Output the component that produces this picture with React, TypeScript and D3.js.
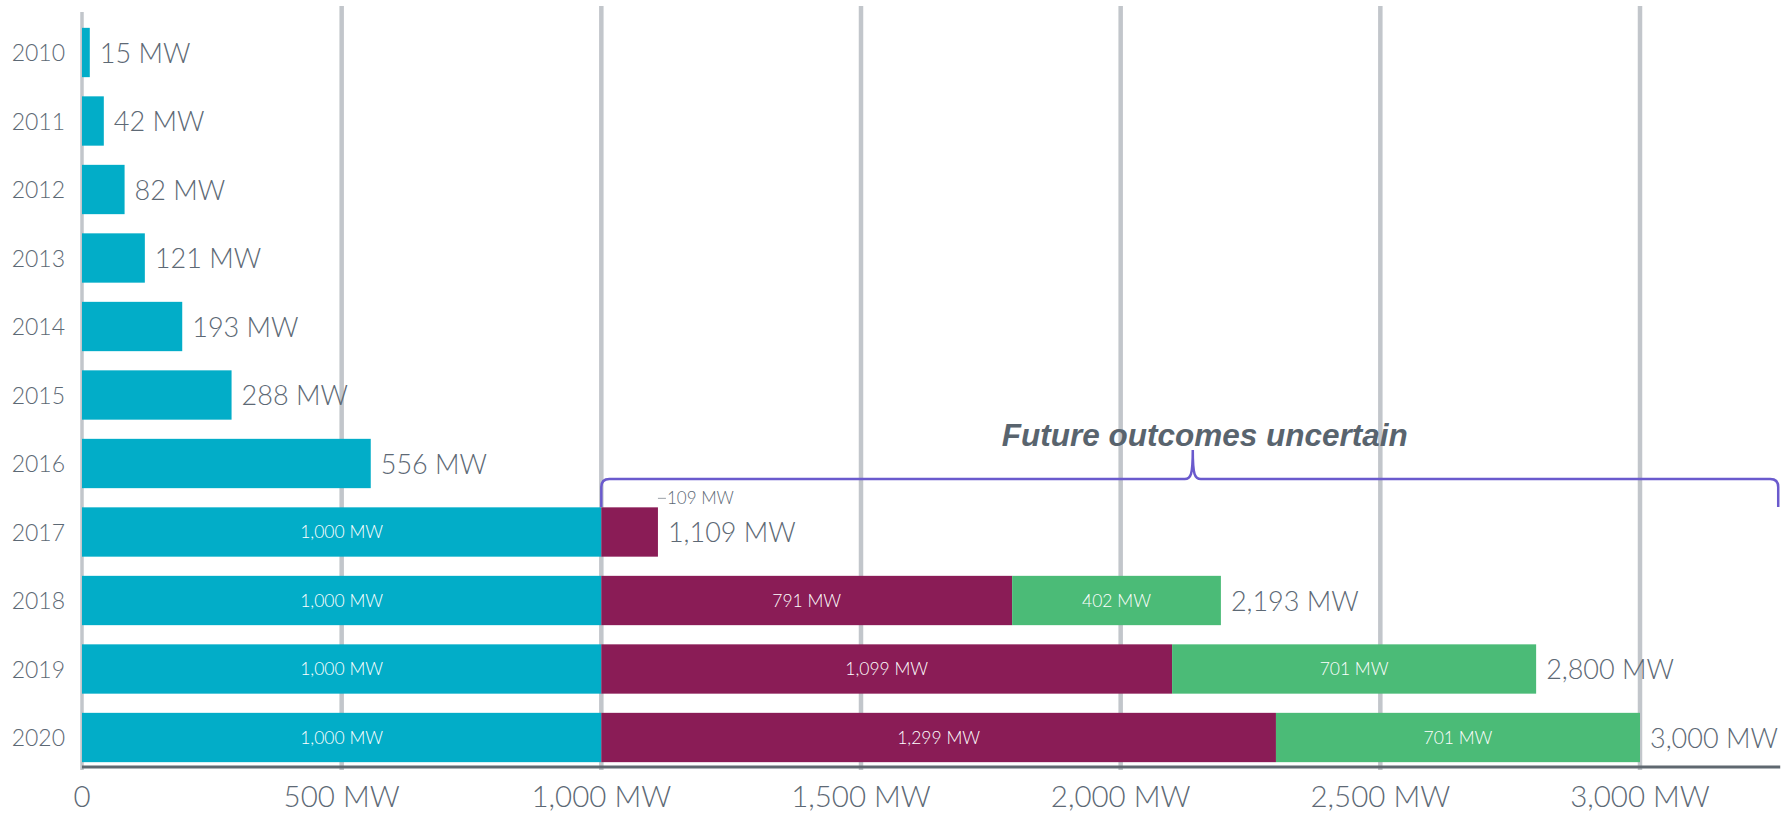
import React from 'react';
import * as d3 from 'd3';

// Installed capacity by year, split into three stacked components (MW)
const years = ['2010', '2011', '2012', '2013', '2014', '2015', '2016', '2017', '2018', '2019', '2020'];
const baseMW = [15, 42, 82, 121, 193, 288, 556, 1000, 1000, 1000, 1000];
const secondMW = [0, 0, 0, 0, 0, 0, 0, 109, 791, 1099, 1299];
const thirdMW = [0, 0, 0, 0, 0, 0, 0, 0, 402, 701, 701];
const xTicks = [0, 500, 1000, 1500, 2000, 2500, 3000];
const seriesKeys = ['base', 'second', 'third'];
const seriesColors = ['#02adc8', '#8a1c56', '#4bbb77'];
const braceTitle = 'Future outcomes uncertain';
const braceStartMW = 1000;

const W = 1792;
const H = 814;
const TEXT = '#5d6975';
const FONT = 'Lato, "Open Sans", sans-serif';

export default function App() {
  const rows = years.map((y, i) => ({
    year: y,
    base: baseMW[i],
    second: secondMW[i],
    third: thirdMW[i],
  }));

  const x = d3.scaleLinear().domain([0, 3270]).range([82, 82 + 3270 * (1558 / 3000)]);
  const y = d3
    .scaleBand<string>()
    .domain(years)
    .range([18.25, 771.75])
    .paddingInner(0.28)
    .paddingOuter(0.14);

  const stack = d3.stack<any>().keys(seriesKeys);
  const layers = stack(rows);
  const fmt = d3.format(',');
  const bw = y.bandwidth();

  const axisY = 767;
  const gridTop = 6;
  const [xMin, xMax] = x.range();

  // curly brace spanning the projected years
  const bx0 = x(braceStartMW);
  const bx1 = xMax - 2;
  const by = 479;
  const bBottom = 507;
  const bTip = 450;
  const bMid = (bx0 + bx1) / 2 + 3;
  const r = 8;
  const bracePath = [
    `M${bx0},${bBottom}`,
    `L${bx0},${by + r}`,
    `Q${bx0},${by} ${bx0 + r},${by}`,
    `L${bMid - 8},${by}`,
    `C${bMid - 2},${by} ${bMid},${by - 4} ${bMid},${bTip}`,
    `C${bMid},${by - 4} ${bMid + 2},${by} ${bMid + 8},${by}`,
    `L${bx1 - r},${by}`,
    `Q${bx1},${by} ${bx1},${by + r}`,
    `L${bx1},${bBottom}`,
  ].join(' ');

  return (
    <svg
      width={W}
      height={H}
      style={{ position: 'absolute', left: 0, top: 0, display: 'block', background: '#fff' }}
      fontFamily={FONT}
    >
      {/* vertical gridlines */}
      {xTicks.map((t) => (
        <line
          key={'g' + t}
          x1={x(t)}
          x2={x(t)}
          y1={t === 0 ? 12 : gridTop}
          y2={axisY + 3}
          stroke="#c2c6cb"
          strokeWidth={t === 0 ? 3.5 : 4.5}
        />
      ))}

      {/* stacked bars */}
      {layers.map((layer, li) =>
        layer.map((d, i) => {
          const w = x(d[1]) - x(d[0]);
          if (w <= 0) return null;
          return (
            <rect
              key={`b${li}-${i}`}
              x={x(d[0])}
              y={y(years[i])}
              width={w}
              height={bw}
              fill={seriesColors[li]}
            />
          );
        })
      )}

      {/* in-bar segment labels for the stacked years */}
      {layers.map((layer, li) =>
        layer.map((d, i) => {
          const v = d[1] - d[0];
          const total = baseMW[i] + secondMW[i] + thirdMW[i];
          if (v <= 0 || total <= baseMW[i]) return null;
          const w = x(d[1]) - x(d[0]);
          const cy = (y(years[i]) as number) + bw / 2;
          if (w > 70) {
            return (
              <text
                key={`s${li}-${i}`}
                x={(x(d[0]) + x(d[1])) / 2}
                y={cy + 6}
                textAnchor="middle"
                fontSize={17.5}
                fill="#ffffff"
                fontWeight={300}
              >
                {fmt(v)} MW
              </text>
            );
          }
          const top = y(years[i]) as number;
          return (
            <g key={`s${li}-${i}`}>
              <line x1={x(d[1])} x2={x(d[1]) + 8} y1={top - 9} y2={top - 9} stroke="#9aa1a8" strokeWidth={1} />
              <text x={x(d[1]) + 9} y={top - 3} fontSize={17} fill={TEXT} fontWeight={300}>
                {fmt(v)} MW
              </text>
            </g>
          );
        })
      )}

      {/* total labels */}
      {rows.map((d) => {
        const total = d.base + d.second + d.third;
        const cy = (y(d.year) as number) + bw / 2;
        return (
          <text
            key={'t' + d.year}
            x={x(total) + 10}
            y={cy + 10}
            fontSize={27}
            fill={TEXT}
            fontWeight={300}
          >
            {fmt(total)} MW
          </text>
        );
      })}

      {/* year labels */}
      {years.map((yr) => (
        <text
          key={'y' + yr}
          x={65}
          y={(y(yr) as number) + bw / 2 + 8.5}
          textAnchor="end"
          fontSize={23}
          fill={TEXT}
          fontWeight={300}
        >
          {yr}
        </text>
      ))}

      {/* bottom axis */}
      <line x1={xMin} x2={xMax} y1={axisY} y2={axisY} stroke="#5f6870" strokeWidth={3} />
      {xTicks.map((t) => (
        <text
          key={'x' + t}
          x={x(t)}
          y={807}
          textAnchor="middle"
          fontSize={29.5}
          fill={TEXT}
          fontWeight={300}
        >
          {t === 0 ? '0' : `${fmt(t)} MW`}
        </text>
      ))}

      {/* brace and annotation */}
      <path d={bracePath} fill="none" stroke="#6a5acd" strokeWidth={2.5} />
      <text
        x={bMid + 12}
        y={446}
        textAnchor="middle"
        fontFamily='"Liberation Sans", Arial, sans-serif'
        fontWeight={700}
        fontStyle="italic"
        fontSize={31.5}
        fill="#59646e"
      >
        {braceTitle}
      </text>
    </svg>
  );
}
